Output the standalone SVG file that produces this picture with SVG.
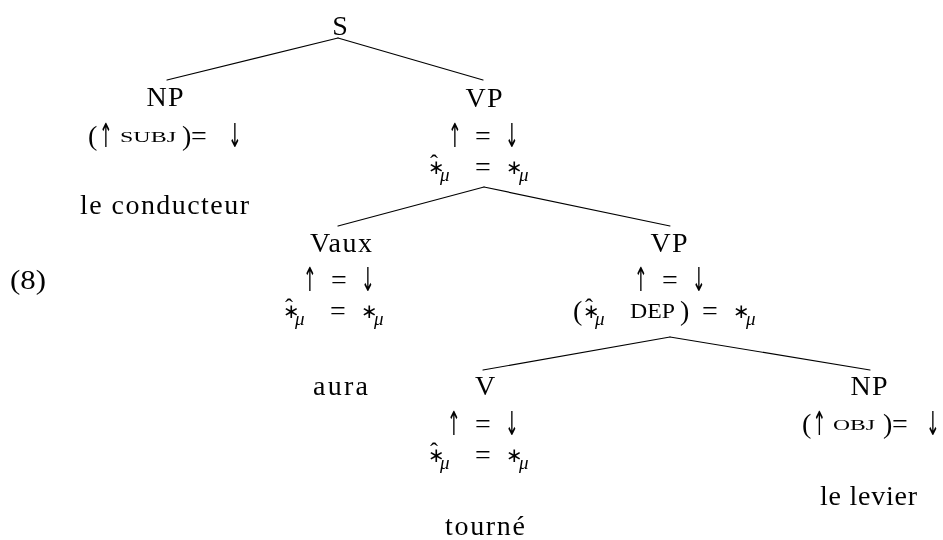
<svg xmlns="http://www.w3.org/2000/svg" width="943" height="540" viewBox="0 0 943 540">
  <style>
    text { font-family: "Liberation Serif", "DejaVu Serif", serif; font-size: 28px; fill: #000; }
    .mid { text-anchor: middle; }
    .sc { font-size: 15px; }
    .scL { font-size: 21px; }
    .mu { font-style: italic; font-size: 19px; }
    .ast { font-family: "DejaVu Sans", sans-serif; font-size: 20px; }
    .hat { font-size: 24px; }
    .arr { font-family: "DejaVu Sans", sans-serif; font-size: 22px; text-anchor: middle; }
    .edge { stroke: #000; stroke-width: 1.2; fill: none; stroke-linecap: round; }
  </style>

  <!-- branches -->
  <g id="edges">
    <line class="edge" x1="338" y1="38" x2="167" y2="80"/>
    <line class="edge" x1="338" y1="38" x2="483" y2="80"/>
    <line class="edge" x1="484" y1="187" x2="338" y2="226"/>
    <line class="edge" x1="484" y1="187" x2="670" y2="226"/>
    <line class="edge" x1="670" y1="337" x2="483" y2="370"/>
    <line class="edge" x1="670" y1="337" x2="870" y2="370"/>
  </g>

  <!-- all labels in one layer; slight opacity keeps glyph edges grey -->
  <g id="labels" opacity="0.995">
  <!-- example number -->
  <text id="exnum" x="10" y="289" textLength="36" lengthAdjust="spacingAndGlyphs">(8)</text>

  <!-- S -->
  <g id="node-S">
    <text class="mid" x="340" y="35">S</text>
  </g>

  <!-- NP subject -->
  <g id="node-NP-subj">
    <text class="mid" x="165" y="106" textLength="37">NP</text>
    <g transform="translate(88,145)">
      <text x="0" y="0">(</text>
      <text class="arr" transform="translate(18,2) scale(0.75,1.5)">↑</text>
      <text class="sc" x="32" y="-3" textLength="56" lengthAdjust="spacingAndGlyphs">SUBJ</text>
      <text x="94" y="0">)</text>
      <text class="mid" x="111" y="0">=</text>
      <text class="arr" transform="translate(147,2) scale(0.75,1.5)">↓</text>
    </g>
    <text x="80" y="214" textLength="169">le conducteur</text>
  </g>

  <!-- VP top -->
  <g id="node-VP1">
    <text class="mid" x="484" y="107" textLength="37">VP</text>
    <g transform="translate(483,145)">
      <text class="arr" transform="translate(-28,2) scale(0.75,1.5)">↑</text>
      <text class="mid" x="0" y="0">=</text>
      <text class="arr" transform="translate(29,2) scale(0.75,1.5)">↓</text>
    </g>
    <g transform="translate(428,176)">
      <text><tspan class="ast" x="0" y="-2">∗</tspan><tspan class="hat" x="2" y="-5">ˆ</tspan><tspan class="mu" x="12" y="5">μ</tspan></text>
      <text class="mid" x="55" y="0">=</text>
      <text><tspan class="ast" x="78" y="-2">∗</tspan><tspan class="mu" x="91" y="5">μ</tspan></text>
    </g>
  </g>

  <!-- Vaux -->
  <g id="node-Vaux">
    <text x="310" y="252" textLength="62">Vaux</text>
    <g transform="translate(339,289)">
      <text class="arr" transform="translate(-29,2) scale(0.75,1.5)">↑</text>
      <text class="mid" x="0" y="0">=</text>
      <text class="arr" transform="translate(29,2) scale(0.75,1.5)">↓</text>
    </g>
    <g transform="translate(283,320)">
      <text><tspan class="ast" x="0" y="-2">∗</tspan><tspan class="hat" x="2" y="-5">ˆ</tspan><tspan class="mu" x="12" y="5">μ</tspan></text>
      <text class="mid" x="55" y="0">=</text>
      <text><tspan class="ast" x="78" y="-2">∗</tspan><tspan class="mu" x="91" y="5">μ</tspan></text>
    </g>
    <text x="313" y="395" textLength="55">aura</text>
  </g>

  <!-- VP lower -->
  <g id="node-VP2">
    <text class="mid" x="669" y="252" textLength="37">VP</text>
    <g transform="translate(670,289)">
      <text class="arr" transform="translate(-29,2) scale(0.75,1.5)">↑</text>
      <text class="mid" x="0" y="0">=</text>
      <text class="arr" transform="translate(29,2) scale(0.75,1.5)">↓</text>
    </g>
    <g transform="translate(583,320)">
      <text><tspan x="-10" y="0">(</tspan><tspan class="ast" x="0" y="-2">∗</tspan><tspan class="hat" x="2" y="-5">ˆ</tspan><tspan class="mu" x="12" y="5">μ</tspan></text>
      <text class="scL" x="47" y="-2" textLength="45" lengthAdjust="spacingAndGlyphs">DEP</text>
      <text x="97" y="0">)</text>
      <text class="mid" x="127" y="0">=</text>
      <text><tspan class="ast" x="150" y="-2">∗</tspan><tspan class="mu" x="163" y="5">μ</tspan></text>
    </g>
  </g>

  <!-- V -->
  <g id="node-V">
    <text class="mid" x="485" y="395">V</text>
    <g transform="translate(483,433)">
      <text class="arr" transform="translate(-29,2) scale(0.75,1.5)">↑</text>
      <text class="mid" x="0" y="0">=</text>
      <text class="arr" transform="translate(29,2) scale(0.75,1.5)">↓</text>
    </g>
    <g transform="translate(428,464)">
      <text><tspan class="ast" x="0" y="-2">∗</tspan><tspan class="hat" x="2" y="-5">ˆ</tspan><tspan class="mu" x="12" y="5">μ</tspan></text>
      <text class="mid" x="55" y="0">=</text>
      <text><tspan class="ast" x="78" y="-2">∗</tspan><tspan class="mu" x="91" y="5">μ</tspan></text>
    </g>
    <text x="445" y="535" textLength="80">tourné</text>
  </g>

  <!-- NP object -->
  <g id="node-NP-obj">
    <text class="mid" x="869" y="395" textLength="37">NP</text>
    <g transform="translate(802,433)">
      <text x="0" y="0">(</text>
      <text class="arr" transform="translate(17.5,2) scale(0.75,1.5)">↑</text>
      <text class="sc" x="31" y="-3" textLength="42" lengthAdjust="spacingAndGlyphs">OBJ</text>
      <text x="81" y="0">)</text>
      <text class="mid" x="98" y="0">=</text>
      <text class="arr" transform="translate(131,2) scale(0.75,1.5)">↓</text>
    </g>
    <text x="820" y="505" textLength="97">le levier</text>
  </g>
  </g>
</svg>
